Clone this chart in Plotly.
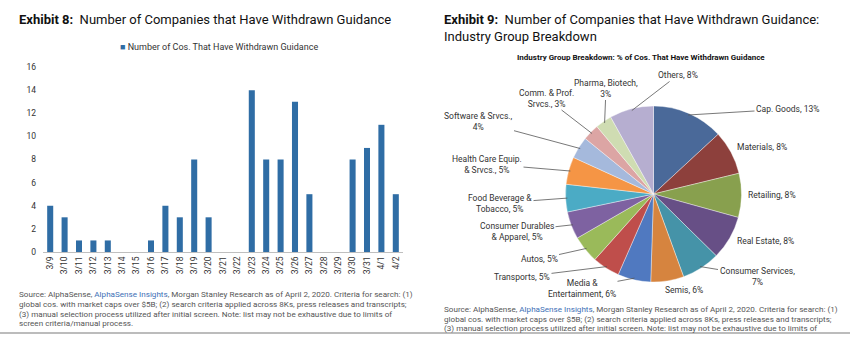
import math
import plotly.graph_objects as go

W, H = 850, 338

# ---------------- data ----------------
dates = ["3/9", "3/10", "3/11", "3/12", "3/13", "3/14", "3/15", "3/16", "3/17", "3/18",
         "3/19", "3/20", "3/21", "3/22", "3/23", "3/24", "3/25", "3/26", "3/27", "3/28",
         "3/29", "3/30", "3/31", "4/1", "4/2"]
withdrawn = [4, 3, 1, 1, 1, 0, 0, 1, 4, 3, 8, 3, 0, 0, 14, 8, 8, 13, 5, 0, 0, 8, 9, 11, 5]

industries = ["Cap. Goods", "Materials", "Retailing", "Real Estate", "Consumer Services",
              "Semis", "Media & Entertainment", "Transports", "Autos",
              "Consumer Durables & Apparel", "Food Beverage & Tobacco",
              "Health Care Equip. & Srvcs.", "Software & Srvcs.", "Comm. & Prof. Srvcs.",
              "Pharma, Biotech", "Others"]
industry_pct = [13, 8, 8, 8, 7, 6, 6, 5, 5, 5, 5, 5, 4, 3, 3, 8]
industry_labels = ["Cap. Goods, 13%", "Materials, 8%", "Retailing, 8%", "Real Estate, 8%",
                   "Consumer Services,<br>7%", "Semis, 6%", "Media &<br>Entertainment, 6%",
                   "Transports, 5%", "Autos, 5%", "Consumer Durables<br>& Apparel, 5%",
                   "Food Beverage &<br>Tobacco, 5%", "Health Care Equip.<br>& Srvcs., 5%",
                   "Software & Srvcs.,<br>4%", "Comm. & Prof.<br>Srvcs., 3%",
                   "Pharma, Biotech,<br>3%", "Others, 8%"]

source_lines = [
    "Source: AlphaSense, <span style='color:#3E6FB6'>AlphaSense Insights</span>, Morgan Stanley Research as of April 2, 2020. Criteria for search: (1)",
    "global cos. with market caps over $5B; (2) search criteria applied across 8Ks, press releases and transcripts;",
    "(3) manual selection process utilized after initial screen. Note: list may not be exhaustive due to limits of",
    "screen criteria/manual process.",
]

# ---------------- styles ----------------
bar_color = "#2F6DA5"
pie_colors = ["#4A6999", "#8D403C", "#88A04E", "#674F86", "#4593A8", "#D6843F",
              "#5079C0", "#BF4E4B", "#9ABA5A", "#7E62A1", "#4BABC5", "#F59545",
              "#A5B9DC", "#DCA5A4", "#CFDCB2", "#B6AED0"]
# label text centre (pixels) and whether a leader line is drawn
label_px = [(788, 109), (762, 147), (772, 195), (765, 241), (757, 276), (684, 290),
            (582, 288), (522, 277), (539, 259), (517, 231), (500, 203), (487, 164),
            (478, 121), (546, 98), (606, 88), (678, 75)]
leader = [True, False, False, False, True, False, True, True, True, True, True, True,
          True, True, True, True]
src_left_y = [294, 304, 313.5, 323.3]
src_right_y = [309.3, 318.8, 328.3, 339.5]
rule_y = 333

FONT = "Roboto"
TXT = "#333333"

def px(x):
    return x / W

def py(y):
    return 1 - y / H

fig = go.Figure()

# ---------------- bar chart (Exhibit 8) ----------------
fig.add_trace(go.Bar(x=dates, y=withdrawn, marker=dict(color=bar_color, line=dict(width=0)),
                     name="Number of Cos. That Have Withdrawn Guidance", showlegend=False,
                     xaxis="x", yaxis="y"))

# ---------------- pie chart (Exhibit 9) ----------------
cx, cy, R = 653.5, 194, 88
fig.add_trace(go.Pie(labels=industries, values=industry_pct, sort=False,
                     direction="clockwise", rotation=0, textinfo="none",
                     hoverinfo="label+percent", automargin=False,
                     marker=dict(colors=pie_colors, line=dict(color="rgba(255,255,255,0.55)", width=0.7)),
                     domain=dict(x=[px(cx - R), px(cx + R)], y=[py(cy + R), py(cy - R)]),
                     showlegend=False))

annotations = []
total = sum(industry_pct)
cum = 0
for i, v in enumerate(industry_pct):
    mid = (cum + v / 2) / total * 2 * math.pi
    cum += v
    tx = cx + 0.98 * R * math.sin(mid)
    ty = cy - 0.98 * R * math.cos(mid)
    lx, ly = label_px[i]
    if leader[i]:
        annotations.append(dict(x=px(tx), y=py(ty), xref="paper", yref="paper",
                                text=industry_labels[i], showarrow=True, arrowhead=0,
                                arrowwidth=0.8, arrowcolor="#555555", standoff=0,
                                ax=lx - tx, ay=ly - ty, font=dict(family=FONT, size=8.5, color=TXT),
                                align="center"))
    else:
        annotations.append(dict(x=px(lx), y=py(ly), xref="paper", yref="paper",
                                text=industry_labels[i], showarrow=False,
                                xanchor="center", yanchor="middle",
                                font=dict(family=FONT, size=8.5, color=TXT), align="center"))

NB = "\u00a0"
# titles
annotations.append(dict(x=px(17), y=py(20), xref="paper", yref="paper", xanchor="left", yanchor="middle",
                        showarrow=False, text="<b>Exhibit 8:</b>" + NB * 2 + "Number of Companies that Have Withdrawn Guidance",
                        font=dict(family=FONT, size=13, color="#111111")))
annotations.append(dict(x=px(442), y=py(28), xref="paper", yref="paper", xanchor="left", yanchor="middle",
                        showarrow=False, align="left",
                        text="<b>Exhibit 9:</b>" + NB * 2 + "Number of Companies that Have Withdrawn Guidance:<br>Industry Group Breakdown",
                        font=dict(family=FONT, size=13, color="#111111")))
annotations.append(dict(x=px(641), y=py(58), xref="paper", yref="paper", xanchor="center", yanchor="middle",
                        showarrow=False, text="<b>Industry Group Breakdown: % of Cos. That Have Withdrawn Guidance</b>",
                        font=dict(family=FONT, size=8, color="#111111")))
# legend for bar chart
annotations.append(dict(x=px(118), y=py(47), xref="paper", yref="paper", xanchor="left", yanchor="middle",
                        showarrow=False,
                        text="<span style='color:%s'>■</span> Number of Cos. That Have Withdrawn Guidance" % bar_color,
                        font=dict(family=FONT, size=9, color=TXT)))

for x0, ys in ((17, src_left_y), (442, src_right_y)):
    for line, yy in zip(source_lines, ys):
        annotations.append(dict(x=px(x0), y=py(yy), xref="paper", yref="paper", xanchor="left",
                                yanchor="middle", showarrow=False, align="left", text=line,
                                font=dict(family=FONT, size=8.1, color="#555555")))

fig.update_layout(
    width=W, height=H, margin=dict(l=0, r=0, t=0, b=0),
    paper_bgcolor="white", plot_bgcolor="white",
    bargap=0.58,
    xaxis=dict(domain=[px(43), px(403)], type="category", tickangle=-90, automargin=False,
               tickfont=dict(family=FONT, size=8.5, color=TXT), showgrid=False,
               showline=True, linecolor="#BFBFBF", linewidth=1, ticks="", anchor="y"),
    yaxis=dict(domain=[py(252), py(67)], range=[0, 16], dtick=2, showgrid=False, automargin=False,
               zeroline=False, showline=False, ticks="", ticklabelstandoff=6,
               tickfont=dict(family=FONT, size=8.5, color=TXT), anchor="x"),
    annotations=annotations,
    shapes=[dict(type="line", xref="paper", yref="paper", x0=0, x1=1, y0=py(rule_y), y1=py(rule_y),
                 line=dict(color="#A6A6A6", width=1.5))],
    font=dict(family=FONT),
)

fig.write_html("out.html")
